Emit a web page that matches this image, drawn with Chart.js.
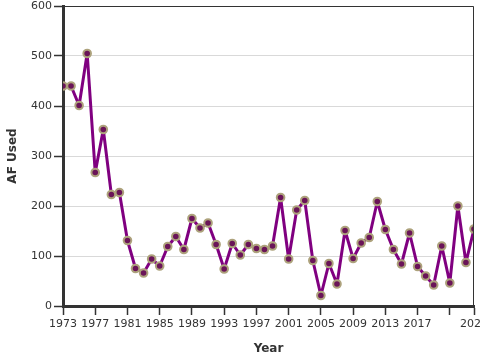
<!DOCTYPE html>
<html>
<head>
<meta charset="utf-8">
<script src="https://cdn.jsdelivr.net/npm/chart.js@4/dist/chart.umd.min.js"></script>
<style>
html,body{margin:0;padding:0;background:#fff;}
#wrap{width:480px;height:360px;}
</style>
</head>
<body>
<div id="wrap"><canvas id="c" width="480" height="360"></canvas></div>
<script>
const years = [1973,1974,1975,1976,1977,1978,1979,1980,1981,1982,1983,1984,1985,1986,1987,1988,1989,1990,1991,1992,1993,1994,1995,1996,1997,1998,1999,2000,2001,2002,2003,2004,2005,2006,2007,2008,2009,2010,2011,2012,2013,2014,2015,2016,2017,2018,2019,2020,2021,2022,2023,2024];
const afUsed = [440,440,401,505,267,353,223,227,131,75,66,94,80,119,139,113,175,156,166,123,74,125,102,123,115,113,120,217,94,192,211,91,21,85,44,151,95,126,137,209,153,113,84,146,79,60,42,120,46,200,87,154];
const xTickValues = [1973,1977,1981,1985,1989,1993,1997,2001,2005,2009,2013,2017,2021,2024];
const hiddenXLabels = [2021];
const yTicks = {min:0, max:600, step:100};

const FONT = "'DejaVu Sans', Verdana, sans-serif";

const frame = {
  id:'frame',
  afterDraw(chart){
    const a = chart.chartArea, ctx = chart.ctx;
    ctx.save();
    ctx.strokeStyle = '#333';
    ctx.lineWidth = 1;
    ctx.beginPath();
    ctx.moveTo(a.left, a.top+0.5);
    ctx.lineTo(a.right-0.5, a.top+0.5);
    ctx.lineTo(a.right-0.5, a.bottom);
    ctx.stroke();
    ctx.restore();
  }
};

new Chart(document.getElementById('c'), {
  type:'line',
  data:{
    datasets:[{
      data: years.map((y,i)=>({x:y, y:afUsed[i]})),
      borderColor:'#800080',
      borderWidth:3,
      borderJoinStyle:'round',
      tension:0,
      pointRadius:3.8,
      pointBackgroundColor:'#6a1458',
      pointBorderColor:'#ada27c',
      pointBorderWidth:2
    }]
  },
  options:{
    responsive:false,
    animation:false,
    layout:{padding:{top:4,right:5,left:0,bottom:0}},
    plugins:{legend:{display:false}, tooltip:{enabled:false}},
    scales:{
      x:{
        type:'linear',
        min:1973, max:2024,
        afterBuildTicks(s){ s.ticks = xTickValues.map(v=>({value:v})); },
        afterFit(s){ s.height = 54; s.paddingLeft = 0; s.paddingRight = 0; },
        ticks:{
          autoSkip:false, maxRotation:0,
          color:'#333', font:{family:FONT, size:11}, padding:3,
          callback:(v)=> hiddenXLabels.includes(v) ? '' : String(v)
        },
        grid:{drawOnChartArea:false, drawTicks:true, tickLength:9, tickColor:'#333', tickWidth:1.5},
        border:{color:'#333', width:3},
        title:{display:true, text:'Year', color:'#333', font:{family:FONT, size:12, weight:'bold'}, padding:{top:6}}
      },
      y:{
        min:yTicks.min, max:yTicks.max,
        afterFit(s){ s.width = 63; s.paddingTop = 0; s.paddingBottom = 0; },
        ticks:{stepSize:yTicks.step, color:'#333', font:{family:FONT, size:11}, padding:2},
        grid:{color:'#d9d9d9', lineWidth:1, tickLength:9, tickColor:'#333', tickWidth:1.5},
        border:{color:'#333', width:3},
        title:{display:true, text:'AF Used', color:'#333', font:{family:FONT, size:12, weight:'bold'}, padding:{top:6}}
      }
    }
  },
  plugins:[frame]
});
</script>
</body>
</html>
